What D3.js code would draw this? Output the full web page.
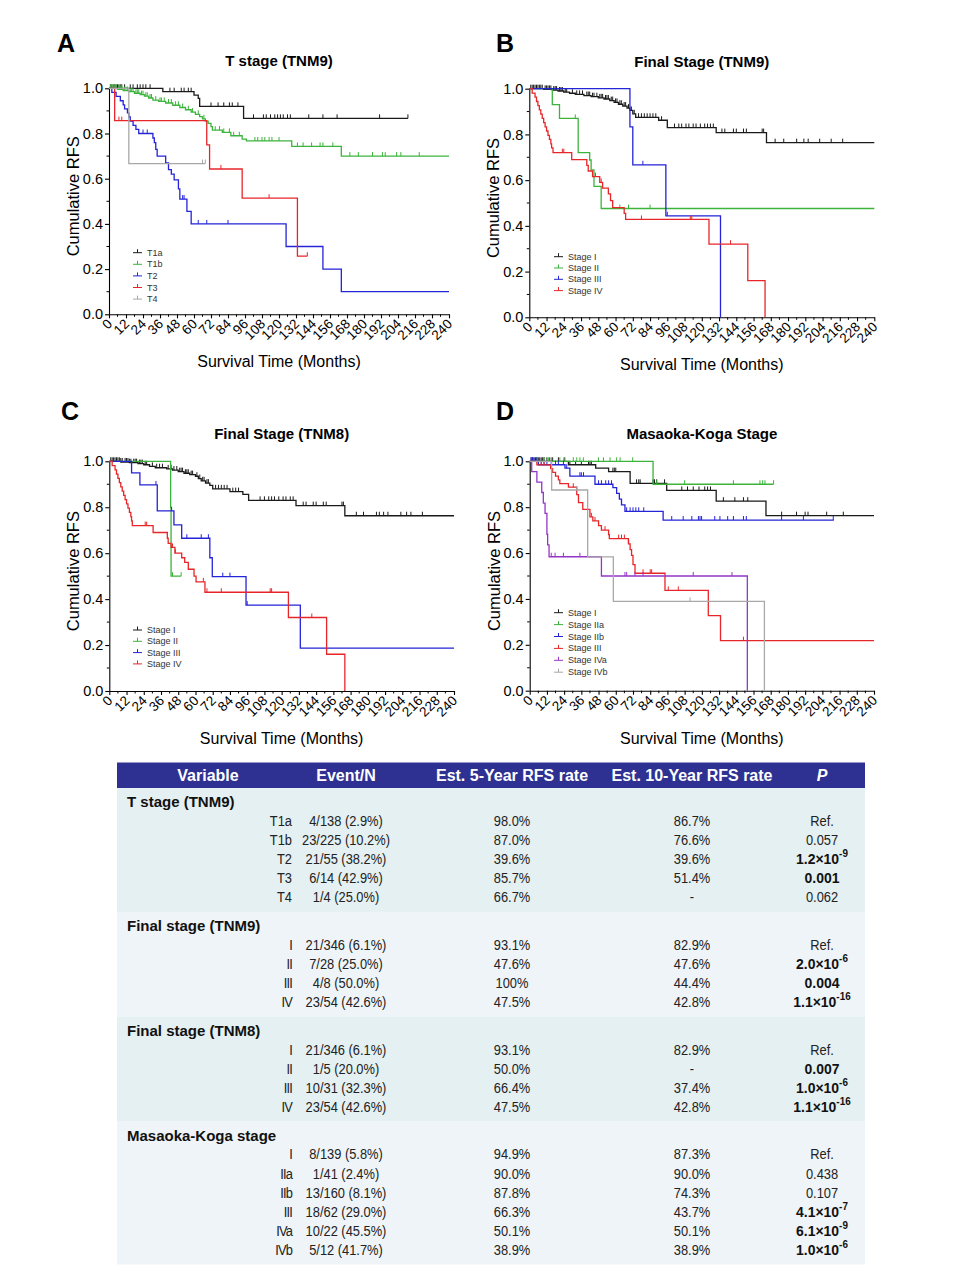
<!DOCTYPE html>
<html><head><meta charset="utf-8">
<script src="https://cdn.jsdelivr.net/npm/d3@7"></script>
<style>
body{margin:0;background:#fff}
svg{display:block}
text{font-family:Arial,'Liberation Sans',sans-serif}
</style>
</head><body><svg id="c" width="960" height="1280"></svg>
<script>
// ---------------- DATA ----------------
const xTickValues = [0,12,24,36,48,60,72,84,96,108,120,132,144,156,168,180,192,204,216,228,240];
const xMinorTicks = [6,18,30,42,54,66,78,90,102,114,126,138,150,162,174,186,198,210,222,234];
const yTickValues = [0,0.2,0.4,0.6,0.8,1.0];
const yMinorTicks = [0.1,0.3,0.5,0.7,0.9];
const panelTitles = ["T stage (TNM9)","Final Stage (TNM9)","Final Stage (TNM8)","Masaoka-Koga Stage"];
const panelLetters = ["A","B","C","D"];
const yAxisTitle = "Cumulative RFS";
const xAxisTitle = "Survival Time (Months)";

// Panel A: T stage (TNM9)  steps = [time, survival after event]
const aNames = ["T1a","T1b","T2","T3","T4"];
const aEnds = [211,240,240,140,68];
const aT1aSteps = [[38,0.985],[60,0.97],[63,0.955],[64,0.92],[95,0.867]];
const aT1aCensor = [1,2,3,4,5,6,7,8,9,11,15,17,20,22,24,26,29,43,46,51,53,56,58,72,77,81,85,87,91,102,109,111,114,117,119,121,123,126,128,141,151,161,191,211];
const aT1bSteps = [[6,0.995],[10,0.99],[14,0.985],[18,0.978],[22,0.972],[25,0.965],[28,0.957],[31,0.948],[35,0.942],[40,0.935],[45,0.925],[50,0.915],[54,0.905],[58,0.895],[61,0.885],[64,0.875],[66,0.865],[68,0.855],[70,0.845],[72,0.83],[73,0.815],[80,0.805],[86,0.79],[94,0.775],[97,0.767],[129,0.743],[164,0.70]];
const aT1bCensor = [1,2,3,4,5,7,8,9,11,12,13,15,16,17,19,20,21,23,24,26,27,29,30,33,36,37,39,42,44,47,49,52,56,59,63,67,75,78,81,85,88,92,103,105,108,110,113,115,120,133,137,143,149,151,158,170,176,186,193,195,203,206,219];
const aT2Steps = [[2,0.982],[5,0.964],[8,0.945],[10,0.927],[11,0.909],[13,0.891],[14,0.873],[15,0.855],[17,0.836],[19,0.818],[21,0.80],[31,0.78],[32,0.76],[33,0.73],[34,0.70],[40,0.67],[42,0.64],[44,0.62],[46,0.595],[49,0.555],[50,0.51],[55,0.455],[58,0.40],[125,0.30],[151,0.20],[164,0.10]];
const aT2Censor = [24,27,52,53,63,69,84];
const aT3Steps = [[4,0.857],[69,0.75],[71,0.643],[94,0.514],[133,0.257]];
const aT3Censor = [7,9,79,113,140];
const aT4Steps = [[14,0.667]];
const aT4Censor = [66,68];

// Panel B: Final Stage (TNM9)
const bNames = ["Stage I","Stage II","Stage III","Stage IV"];
const bEnds = [240,240,133,164];
const bISteps = [[10,0.997],[16,0.994],[20,0.99],[24,0.985],[28,0.98],[32,0.975],[38,0.97],[43,0.965],[48,0.96],[52,0.955],[56,0.948],[59,0.94],[62,0.932],[65,0.924],[68,0.915],[70,0.905],[72,0.89],[74,0.875],[90,0.862],[96,0.83],[130,0.808],[165,0.764]];
const bICensor = [1,2,3,4,5,6,7,8,9,11,12,13,14,15,17,18,19,21,22,23,25,26,30,33,35,37,40,41,42,44,45,47,49,50,51,53,54,55,57,58,60,61,63,64,66,67,69,71,73,76,78,80,82,84,86,88,92,101,104,106,109,111,114,116,119,122,124,126,128,134,136,142,144,149,151,162,163,171,177,186,191,194,202,210,218];
const bIISteps = [[16,0.93],[21,0.87],[34,0.72],[42,0.688],[43,0.645],[45,0.573],[50,0.476]];
const bIICensor = [32,63,69,84];
const bIIISteps = [[70,0.833],[72,0.667],[95,0.444],[133,0]];
const bIIICensor = [79,96];
const bIVSteps = [[2,0.981],[4,0.963],[5,0.944],[6,0.926],[7,0.907],[8,0.889],[9,0.87],[10,0.852],[11,0.833],[12,0.815],[13,0.796],[14,0.778],[15,0.759],[15.5,0.741],[16.5,0.72],[29.5,0.69],[40,0.665],[41,0.64],[44,0.615],[49,0.59],[51,0.565],[55,0.54],[56.5,0.51],[58,0.48],[66,0.455],[67,0.428],[125,0.32],[152,0.16],[164,0]];
const bIVCensor = [23,24,46,50,78,112,113,140];

// Panel C: Final Stage (TNM8)
const cNames = ["Stage I","Stage II","Stage III","Stage IV"];
const cEnds = [240,50,240,164];
const cISteps = [[8,0.997],[14,0.994],[20,0.99],[24,0.985],[28,0.978],[32,0.972],[40,0.967],[44,0.962],[48,0.955],[52,0.948],[56,0.942],[60,0.935],[62,0.925],[64,0.915],[67,0.905],[70,0.895],[72,0.88],[84,0.868],[93,0.856],[97,0.83],[130,0.807],[164,0.763]];
const cICensor = [1,2,3,4,5,6,7,8,9,11,12,13,14,15,17,18,19,21,22,23,25,26,30,33,35,37,41,43,45,47,49,50,51,53,54,55,57,58,61,63,65,66,68,69,74,76,78,80,82,86,88,90,105,108,111,113,115,118,121,123,126,128,135,137,142,144,149,151,162,163,172,177,186,188,191,194,203,207,210,218];
const cIISteps = [[42.7,0.8],[43,0.5]];
const cIICensor = [44,50];
const cIIISteps = [[15.5,0.95],[21.3,0.897],[33.4,0.784],[45,0.723],[50.4,0.665],[70,0.58],[71.7,0.498],[95.2,0.374],[133,0.187]];
const cIIICensor = [32.5,43.4,54,64,69,79,84,96];
const cIVSteps = [[2,0.981],[4,0.963],[5,0.944],[6,0.926],[7,0.907],[8,0.889],[9,0.87],[10,0.852],[11,0.833],[12,0.815],[13,0.796],[14,0.778],[15,0.759],[15.5,0.741],[16,0.72],[30.5,0.69],[40.4,0.665],[41,0.643],[43,0.625],[45.7,0.60],[50.4,0.58],[52.5,0.56],[55,0.53],[59,0.50],[60.4,0.475],[66.6,0.43],[124.7,0.32],[151.3,0.16],[164,0]];
const cIVCensor = [25,26,44,46,65.5,68,78,112,113,141];

// Panel D: Masaoka-Koga Stage
const dNames = ["Stage I","Stage IIa","Stage IIb","Stage III","Stage IVa","Stage IVb"];
const dEnds = [240,170,212,240,151.7,163.6];
const dISteps = [[27,0.985],[46,0.97],[55,0.955],[70,0.904],[95.5,0.873],[130,0.826],[164.7,0.763]];
const dICensor = [1,2,3,4,5,6,7,8,9,10,12,14,16,20,24,28,32,36,41,42,43,58,59,60,74.5,76,77,86,87,88.5,94,106,110,114,118,122,124,126,135,143,149,152,175.6,186,192,194,207,218.6];
const dIIaSteps = [[86,0.90]];
const dIIaCensor = [5,10,13,15.3,21,24.6,30.4,32.8,35,37.4,47.9,51.4,56,60.6,63,71.8,88.5,108,142,160.5,162.4,164,170];
const dIIbSteps = [[6,0.985],[24.6,0.97],[28,0.935],[45.5,0.90],[58,0.885],[60.6,0.86],[62.5,0.835],[64,0.81],[66.4,0.782],[93,0.744]];
const dIIbCensor = [1,2,3,5,8,10,12,15,18,20,23.5,25.8,35,36,37.5,48,50,53,55,57,67.6,70,72,74,76,79.5,99,107,113,117.6,118.7,119.8,129,132.6,138,142,149,151,175.6,190.8,211.6];
const dIIISteps = [[5,0.984],[14.6,0.968],[16,0.952],[18,0.935],[20,0.919],[21,0.903],[27,0.887],[32.8,0.855],[34,0.82],[37,0.79],[42,0.758],[44,0.74],[48,0.72],[50,0.70],[55,0.68],[55.5,0.663],[68.8,0.64],[70,0.615],[71,0.59],[72,0.55],[73.4,0.512],[94.3,0.437],[124.5,0.327],[133,0.218]];
const dIIICensor = [8,10,30.4,43,45.5,52.5,62,64,66,69,79,84,85,96.6,103.6,149];
const dIVaSteps = [[1.4,0.955],[5,0.909],[8.4,0.864],[9.5,0.818],[10.7,0.773],[12,0.682],[12.5,0.636],[13.5,0.584],[50,0.50],[151.7,0]];
const dIVaCensor = [15,17.7,23.5,35,66.4,67.6,73.4,79,114,141];
const dIVbSteps = [[15.3,0.875],[40.4,0.583],[58.3,0.389],[163.6,0]];
const dIVbCensor = [32.8,111.8];

// Table
const tableHeader = ["Variable","Event/N","Est. 5-Year RFS rate","Est. 10-Year RFS rate","P"];
const tableSections = ["T stage (TNM9)","Final stage (TNM9)","Final stage (TNM8)","Masaoka-Koga stage"];
const tStageLabels = ["T1a","T1b","T2","T3","T4"];
const tStageEvents = ["4/138 (2.9%)","23/225 (10.2%)","21/55 (38.2%)","6/14 (42.9%)","1/4 (25.0%)"];
const tStage5yr = ["98.0%","87.0%","39.6%","85.7%","66.7%"];
const tStage10yr = ["86.7%","76.6%","39.6%","51.4%","-"];
const tStageP = ["Ref.","0.057","1.2×10^-9","0.001","0.062"];
const tnm9Labels = ["I","II","III","IV"];
const tnm9Events = ["21/346 (6.1%)","7/28 (25.0%)","4/8 (50.0%)","23/54 (42.6%)"];
const tnm95yr = ["93.1%","47.6%","100%","47.5%"];
const tnm910yr = ["82.9%","47.6%","44.4%","42.8%"];
const tnm9P = ["Ref.","2.0×10^-6","0.004","1.1×10^-16"];
const tnm8Labels = ["I","II","III","IV"];
const tnm8Events = ["21/346 (6.1%)","1/5 (20.0%)","10/31 (32.3%)","23/54 (42.6%)"];
const tnm85yr = ["93.1%","50.0%","66.4%","47.5%"];
const tnm810yr = ["82.9%","-","37.4%","42.8%"];
const tnm8P = ["Ref.","0.007","1.0×10^-6","1.1×10^-16"];
const mkLabels = ["I","IIa","IIb","III","IVa","IVb"];
const mkEvents = ["8/139 (5.8%)","1/41 (2.4%)","13/160 (8.1%)","18/62 (29.0%)","10/22 (45.5%)","5/12 (41.7%)"];
const mk5yr = ["94.9%","90.0%","87.8%","66.3%","50.1%","38.9%"];
const mk10yr = ["87.3%","90.0%","74.3%","43.7%","50.1%","38.9%"];
const mkP = ["Ref.","0.438","0.107","4.1×10^-7","6.1×10^-9","1.0×10^-6"];

// ---------------- STYLE / LAYOUT ----------------
const C = {black:"#1a1a1a", green:"#3cb43c", blue:"#2424d8", red:"#e8262a", gray:"#a8a8a8", purple:"#9437c8"};
const layouts = [
  {x0:109, x1:449, y1:88.3, y0:314.3, letterX:57, letterY:52, legX:133, legY:252.7, legDy:11.6},
  {x0:529.3, x1:874.3, y1:88.7, y0:317.3, letterX:496, letterY:52, legX:554, legY:256.7, legDy:11.3},
  {x0:109.3, x1:454, y1:461.3, y0:691, letterX:61, letterY:420, legX:133, legY:630, legDy:11.3},
  {x0:529.7, x1:874, y1:461.3, y0:690.7, letterX:496, letterY:420, legX:554, legY:612.7, legDy:11.9}
];
const panelSeries = [
  aNames.map((n,i)=>({name:n, end:aEnds[i], steps:[aT1aSteps,aT1bSteps,aT2Steps,aT3Steps,aT4Steps][i], censor:[aT1aCensor,aT1bCensor,aT2Censor,aT3Censor,aT4Censor][i], color:[C.black,C.green,C.blue,C.red,C.gray][i]})),
  bNames.map((n,i)=>({name:n, end:bEnds[i], steps:[bISteps,bIISteps,bIIISteps,bIVSteps][i], censor:[bICensor,bIICensor,bIIICensor,bIVCensor][i], color:[C.black,C.green,C.blue,C.red][i]})),
  cNames.map((n,i)=>({name:n, end:cEnds[i], steps:[cISteps,cIISteps,cIIISteps,cIVSteps][i], censor:[cICensor,cIICensor,cIIICensor,cIVCensor][i], color:[C.black,C.green,C.blue,C.red][i]})),
  dNames.map((n,i)=>({name:n, end:dEnds[i], steps:[dISteps,dIIaSteps,dIIbSteps,dIIISteps,dIVaSteps,dIVbSteps][i], censor:[dICensor,dIIaCensor,dIIbCensor,dIIICensor,dIVaCensor,dIVbCensor][i], color:[C.black,C.green,C.blue,C.red,C.purple,C.gray][i]}))
];

const svg = d3.select("#c");

function survAt(steps,t){let s=1;for(const [tt,v] of steps){if(tt<=t)s=v;else break;}return s;}
function kmPts(steps,end){const p=[[0,1]];let s=1;for(const [t,v] of steps){p.push([t,s]);p.push([t,v]);s=v;}p.push([end,s]);return p;}

function drawPanel(i){
  const L = layouts[i], series = panelSeries[i];
  const g = svg.append("g");
  const x = d3.scaleLinear().domain([0,240]).range([L.x0,L.x1]);
  const y = d3.scaleLinear().domain([0,1]).range([L.y0,L.y1]);
  g.append("text").attr("x",L.letterX).attr("y",L.letterY).attr("font-size",25).attr("font-weight","bold").text(panelLetters[i]);
  g.append("text").attr("x",(L.x0+L.x1)/2).attr("y",L.y1-22).attr("text-anchor","middle").attr("font-size",15).attr("font-weight","bold").text(panelTitles[i]);
  const ya = g.append("g").attr("transform",`translate(${L.x0},0)`)
    .call(d3.axisLeft(y).tickValues(yTickValues).tickFormat(d3.format(".1f")).tickSize(4).tickSizeOuter(0).tickPadding(2));
  ya.selectAll("text").attr("font-size",14.5).attr("fill","#000").attr("font-family","Arial,'Liberation Sans',sans-serif");
  ya.selectAll("path,line").attr("stroke","#000").attr("stroke-width",1.1);
  g.selectAll(null).data(yMinorTicks).join("line").attr("x1",L.x0-2.5).attr("x2",L.x0).attr("y1",d=>y(d)).attr("y2",d=>y(d)).attr("stroke","#000").attr("stroke-width",1);
  const xa = g.append("g").attr("transform",`translate(0,${L.y0})`)
    .call(d3.axisBottom(x).tickValues(xTickValues).tickFormat("").tickSize(4).tickSizeOuter(0));
  xa.selectAll("path,line").attr("stroke","#000").attr("stroke-width",1.1);
  g.selectAll(null).data(xMinorTicks).join("line").attr("x1",d=>x(d)).attr("x2",d=>x(d)).attr("y1",L.y0).attr("y2",L.y0+2.5).attr("stroke","#000").attr("stroke-width",1);
  g.selectAll(null).data(xTickValues).join("text")
    .attr("transform",d=>`translate(${x(d)+4},${L.y0+10.5}) rotate(-45)`)
    .attr("text-anchor","end").attr("font-size",13.5).attr("fill","#000").text(d=>d);
  g.append("text").attr("transform",`translate(${L.x0-36},${(L.y0+L.y1)/2-5}) rotate(-90)`).attr("text-anchor","middle").attr("dominant-baseline","central").attr("font-size",16.5).text(yAxisTitle);
  g.append("text").attr("x",(L.x0+L.x1)/2).attr("y",L.y0+53).attr("text-anchor","middle").attr("font-size",16).text(xAxisTitle);
  const line = d3.line().x(d=>x(d[0])).y(d=>y(d[1]));
  series.forEach(s=>{
    g.append("path").attr("d",line(kmPts(s.steps,s.end))).attr("fill","none").attr("stroke",s.color).attr("stroke-width",1.3);
    g.selectAll(null).data(s.censor).join("line")
      .attr("x1",d=>x(d)).attr("x2",d=>x(d)).attr("y1",d=>y(survAt(s.steps,d))).attr("y2",d=>y(survAt(s.steps,d))-4)
      .attr("stroke",s.color).attr("stroke-width",1);
  });
  series.forEach((s,k)=>{
    const ly = L.legY + k*L.legDy;
    g.append("line").attr("x1",L.legX).attr("x2",L.legX+9).attr("y1",ly).attr("y2",ly).attr("stroke",s.color).attr("stroke-width",1);
    g.append("line").attr("x1",L.legX+4.5).attr("x2",L.legX+4.5).attr("y1",ly).attr("y2",ly-3.5).attr("stroke",s.color).attr("stroke-width",1);
    g.append("text").attr("x",L.legX+14).attr("y",ly).attr("dominant-baseline","central").attr("font-size",9).attr("fill","#333").text(s.name);
  });
}
[0,1,2,3].forEach(drawPanel);

// ---------------- TABLE ----------------
const T = {left:117, right:865, headTop:762.5, headBot:788, labelRight:292, colCx:[208,346,512,692,822], rowH:19.1, labelOff:13.5, firstRowOff:19, bottomOff:15,
  bands:["#e4f0f2","#eef4f8","#e4f0f2","#eef4f8"], squeeze:0.83, boldSqueeze:0.9};
const tg = svg.append("g");
tg.append("rect").attr("x",T.left).attr("y",T.headTop).attr("width",T.right-T.left).attr("height",T.headBot-T.headTop).attr("fill","#2e3192");
tableHeader.forEach((h,i)=>{
  tg.append("text").attr("x",T.colCx[i]).attr("y",(T.headTop+T.headBot)/2).attr("dominant-baseline","central").attr("text-anchor","middle")
    .attr("fill","#fff").attr("font-size",16).attr("font-weight","bold").attr("font-style",i===4?"italic":"normal").text(h);
});
const sectionRows = [
  [tStageLabels,tStageEvents,tStage5yr,tStage10yr,tStageP],
  [tnm9Labels,tnm9Events,tnm95yr,tnm910yr,tnm9P],
  [tnm8Labels,tnm8Events,tnm85yr,tnm810yr,tnm8P],
  [mkLabels,mkEvents,mk5yr,mk10yr,mkP]
];
let curTop = T.headBot;
sectionRows.forEach((sec,si)=>{
  const n = sec[0].length;
  const labelY = curTop + T.labelOff;
  const rowY = k => labelY + T.firstRowOff + k*T.rowH;
  const bottom = rowY(n-1) + T.bottomOff;
  tg.append("rect").attr("x",T.left).attr("y",curTop).attr("width",T.right-T.left).attr("height",bottom-curTop).attr("fill",T.bands[si]);
  tg.append("text").attr("x",127).attr("y",labelY).attr("dominant-baseline","central").attr("font-size",15).attr("font-weight","bold").attr("fill","#111").text(tableSections[si]);
  for(let k=0;k<n;k++){
    const yy = rowY(k);
    const mk = (xx,anchor,sq)=>tg.append("text").attr("transform",`translate(${xx},${yy}) scale(${sq||T.squeeze},1)`)
      .attr("dominant-baseline","central").attr("text-anchor",anchor).attr("font-size",15.5).attr("fill","#222");
    const lab = mk(T.labelRight,"end").text(sec[0][k]);
    if(/^[IV]/.test(sec[0][k])) lab.attr("letter-spacing",-1);
    mk(T.colCx[1],"middle").text(sec[1][k]);
    mk(T.colCx[2],"middle").text(sec[2][k]);
    mk(T.colCx[3],"middle").text(sec[3][k]);
    const p = sec[4][k];
    const num = p.includes("^") ? 0 : parseFloat(p);
    const bold = p!=="Ref." && (p.includes("^") || num < 0.05);
    const t = mk(T.colCx[4],"middle",bold?T.boldSqueeze:T.squeeze).attr("font-weight",bold?"bold":"normal").attr("fill",bold?"#111":"#222");
    if(p.includes("^")){
      const [b,e] = p.split("^");
      t.append("tspan").attr("font-size",15.5).text(b);
      t.append("tspan").attr("font-size",11).attr("dy",-6).text(e);
    } else t.text(p);
  }
  curTop = bottom;
});
</script>
</body></html>
